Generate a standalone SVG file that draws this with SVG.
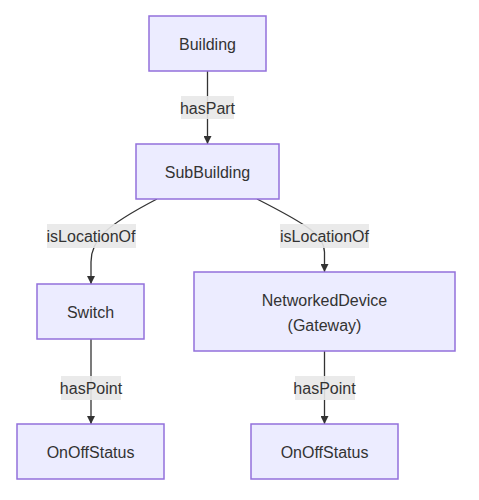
<svg xmlns="http://www.w3.org/2000/svg" width="479" height="500" viewBox="0 0 479 500">
<style>
.node rect{fill:#ECECFF;stroke:#9370DB;stroke-width:1.5}
text{font-family:"Liberation Sans",Arial,sans-serif;font-size:16px;fill:#333;text-anchor:middle;dominant-baseline:central}
.edge{fill:none;stroke:#333;stroke-width:1.3;marker-end:url(#arr)}
.lbl{fill:#e8e8e8;fill-opacity:0.9}
</style>
<defs>
<marker id="arr" viewBox="0 0 10 10" refX="10" refY="5" markerWidth="8" markerHeight="8" markerUnits="userSpaceOnUse" orient="auto">
<path d="M0,0 L10,5 L0,10 z" fill="#333"/>
</marker>
</defs>
<rect width="479" height="500" fill="#fff"/>
<g id="connectors">
<path class="edge" d="M207.5,71 L207.5,144"/>
<path class="edge" d="M157,199 C105,226 91,240 91,262 L91,284"/>
<path class="edge" d="M257,199 C310,226 324.5,236 324.5,252 L324.5,272"/>
<path class="edge" d="M91,339 L91,424"/>
<path class="edge" d="M324.5,351 L324.5,424"/>
<rect class="lbl" x="181" y="96" width="53" height="23"/>
<text x="207.5" y="108">hasPart</text>
<rect class="lbl" x="47" y="224" width="89" height="24"/>
<text x="91" y="236">isLocationOf</text>
<rect class="lbl" x="280" y="224" width="89" height="24"/>
<text x="324.5" y="236">isLocationOf</text>
<rect class="lbl" x="61" y="376" width="60" height="24"/>
<text x="91" y="388">hasPoint</text>
<rect class="lbl" x="295" y="376" width="60" height="24"/>
<text x="324.5" y="388">hasPoint</text>
</g>
<g id="building" class="node"><rect x="149" y="16" width="117" height="55"/><text x="207.5" y="44">Building</text></g>
<g id="subbuilding" class="node"><rect x="136" y="144" width="143" height="55"/><text x="207.5" y="172">SubBuilding</text></g>
<g id="switch" class="node"><rect x="37" y="284" width="107" height="55"/><text x="90.5" y="312">Switch</text></g>
<g id="networkeddevice" class="node"><rect x="194" y="272" width="261" height="79"/><text x="324.5" y="300">NetworkedDevice</text><text x="324.5" y="325">(Gateway)</text></g>
<g id="onoff1" class="node"><rect x="17" y="424" width="147" height="55"/><text x="90.5" y="452">OnOffStatus</text></g>
<g id="onoff2" class="node"><rect x="251" y="424" width="147" height="55"/><text x="324.5" y="452">OnOffStatus</text></g>
</svg>
